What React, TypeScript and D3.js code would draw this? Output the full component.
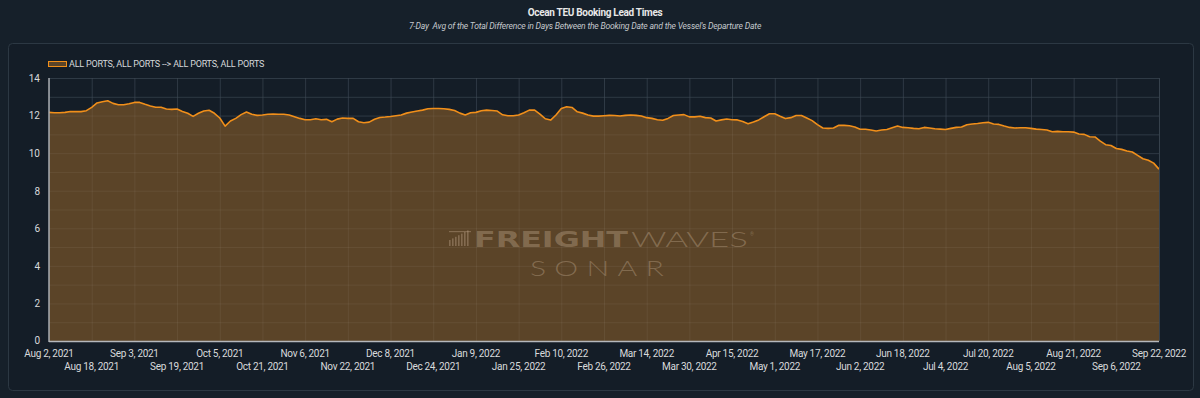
import * as d3 from "d3"

// Ocean TEU booking lead times, 7-day avg, one reading every 2 days from Aug 2, 2021
const startDate = "2021-08-02"
const stepDays = 2
const leadTimes = [
    12.17, 12.15, 12.15, 12.17, 12.22, 12.21, 12.21, 12.26, 12.44, 12.67,
    12.74, 12.79, 12.65, 12.58, 12.58, 12.63, 12.7, 12.7, 12.6, 12.51,
    12.44, 12.44, 12.35, 12.33, 12.35, 12.22, 12.12, 11.96, 12.12, 12.24,
    12.28, 12.12, 11.87, 11.44, 11.71, 11.85, 12.05, 12.19, 12.07, 12.01,
    12.03, 12.07, 12.08, 12.07, 12.07, 12.03, 11.94, 11.85, 11.78, 11.78,
    11.83, 11.78, 11.8, 11.67, 11.81, 11.87, 11.85, 11.85, 11.67, 11.62,
    11.65, 11.8, 11.9, 11.92, 11.95, 11.99, 12.03, 12.13, 12.19, 12.24,
    12.29, 12.36, 12.38, 12.38, 12.36, 12.33, 12.27, 12.13, 12.03, 12.15,
    12.17, 12.26, 12.29, 12.27, 12.24, 12.04, 11.99, 11.99, 12.03, 12.15,
    12.29, 12.29, 12.08, 11.83, 11.76, 12.03, 12.38, 12.47, 12.43, 12.2,
    12.13, 12.03, 11.97, 11.97, 11.99, 12.01, 12.0, 11.98, 12.01, 12.03,
    12.01, 11.98, 11.89, 11.85, 11.78, 11.75, 11.85, 12.0, 12.03, 12.05,
    11.93, 11.93, 11.96, 11.89, 11.87, 11.71, 11.77, 11.82, 11.78, 11.77,
    11.68, 11.57, 11.66, 11.77, 11.94, 12.1, 12.1, 11.96, 11.84, 11.89,
    12.0, 12.0, 11.87, 11.73, 11.52, 11.34, 11.32, 11.34, 11.48, 11.48,
    11.46, 11.39, 11.27, 11.27, 11.23, 11.18, 11.23, 11.26, 11.35, 11.44,
    11.37, 11.35, 11.32, 11.3, 11.37, 11.34, 11.3, 11.28, 11.26, 11.32,
    11.37, 11.39, 11.51, 11.55, 11.58, 11.62, 11.64, 11.55, 11.53, 11.44,
    11.37, 11.34, 11.35, 11.35, 11.32, 11.28, 11.26, 11.23, 11.14, 11.16,
    11.14, 11.14, 11.12, 11.02, 11.0, 10.87, 10.86, 10.64, 10.45, 10.41,
    10.25, 10.2, 10.11, 10.06, 9.88, 9.7, 9.62, 9.47, 9.15,
]

const xTickDates = [
    "2021-08-02", "2021-08-18", "2021-09-03", "2021-09-19", "2021-10-05",
    "2021-10-21", "2021-11-06", "2021-11-22", "2021-12-08", "2021-12-24",
    "2022-01-09", "2022-01-25", "2022-02-10", "2022-02-26", "2022-03-14",
    "2022-03-30", "2022-04-15", "2022-05-01", "2022-05-17", "2022-06-02",
    "2022-06-18", "2022-07-04", "2022-07-20", "2022-08-05", "2022-08-21",
    "2022-09-06", "2022-09-22",
]
const yTicks = [0, 2, 4, 6, 8, 10, 12, 14]

const title = "Ocean TEU Booking Lead Times"
const subtitle = "7-Day  Avg of the Total Difference in Days Between the Booking Date and the Vessel's Departure Date"
const seriesName = "ALL PORTS, ALL PORTS --> ALL PORTS, ALL PORTS"

const W = 1200
const H = 398
const m = { left: 49, right: 1159, top: 78, bottom: 341 }
const bg = "#16202a"
const orange = "#f18f1a"
const brown = "#5b4428"
const font = "Roboto, 'Noto Sans', sans-serif"

export default function App() {
    const parse = d3.timeParse("%Y-%m-%d")
    const t0 = parse(startDate) as Date
    const data = leadTimes.map((v, i) => ({ date: d3.timeDay.offset(t0, i * stepDays), value: v }))
    const ticks = xTickDates.map((s) => parse(s) as Date)
    const fmt = d3.timeFormat("%b %-d, %Y")

    const x = d3.scaleTime()
        .domain([ticks[0], ticks[ticks.length - 1]])
        .range([m.left, m.right])
    const y = d3.scaleLinear().domain([0, 14]).range([m.bottom, m.top])

    const area = d3.area<{ date: Date; value: number }>()
        .x((d) => x(d.date))
        .y0(y(0))
        .y1((d) => y(d.value))
    const line = d3.line<{ date: Date; value: number }>()
        .x((d) => x(d.date))
        .y((d) => y(d.value))

    const yGrid = d3.range(0, 15, 1)

    return (
        <div style={{ position: "fixed", left: 0, top: 0, width: W, height: H, background: bg }}>
            <svg width={W} height={H} style={{ display: "block", fontFamily: font }}>
                <rect x={0} y={0} width={W} height={H} fill={bg} />
                <text x={595} y={16} textAnchor="middle" fill="#e8e8e8" fontSize={10} fontWeight={700} letterSpacing={-0.3}>
                    {title}
                </text>
                <text x={585} y={28.5} textAnchor="middle" fill="#c4c8cc" fontSize={8.6} fontStyle="italic"
                    letterSpacing={-0.2} style={{ whiteSpace: "pre" }}>
                    {subtitle}
                </text>

                <rect x={8.5} y={43.5} width={1185} height={347} rx={4} fill="#141d27" stroke="#2c3843" />

                {/* legend */}
                <rect x={48.5} y={61.5} width={18} height={5} fill={brown} stroke={orange} strokeWidth={1} />
                <text x={69} y={67} fill="#d6d8da" fontSize={9} letterSpacing={-0.2}>{seriesName}</text>

                {/* grid behind */}
                <g stroke="#232e3a" strokeWidth={1}>
                    {yGrid.map((v) => (
                        <line key={"gy" + v} x1={m.left} x2={m.right} y1={y(v) + 0.5} y2={y(v) + 0.5} />
                    ))}
                    {ticks.map((t, i) => (
                        <line key={"gx" + i} x1={x(t) + 0.5} x2={x(t) + 0.5} y1={m.top} y2={m.bottom} />
                    ))}
                </g>

                <path d={area(data) ?? ""} fill={brown} />

                {/* grid over the fill */}
                <g stroke="#ffffff" strokeOpacity={0.06} strokeWidth={1}>
                    {yGrid.map((v) => (
                        <line key={"oy" + v} x1={m.left} x2={m.right} y1={y(v) + 0.5} y2={y(v) + 0.5} />
                    ))}
                    {ticks.map((t, i) => (
                        <line key={"ox" + i} x1={x(t) + 0.5} x2={x(t) + 0.5} y1={m.top} y2={m.bottom} />
                    ))}
                </g>

                {/* watermark */}
                <g fill="#b49c80" fillOpacity={0.45}>
                    {[0, 1, 2, 3, 4, 5, 6].map((i) => (
                        <rect key={"wm" + i} x={449 + i * 3} y={246 - (6 + i * 1.6)} width={1.6} height={6 + i * 1.6} />
                    ))}
                    <rect x={449} y={231} width={22} height={1.2} />
                    <text x={474} y={247} fontSize={21} fontWeight={900} textLength={154} lengthAdjust="spacingAndGlyphs"
                        fontFamily="'DejaVu Sans', sans-serif">FREIGHT</text>
                    <text x={631} y={247} fontSize={21} fontWeight={300} textLength={117} lengthAdjust="spacingAndGlyphs"
                        fontFamily="Lato, sans-serif">WAVES</text>
                    <text x={750} y={236} fontSize={5}>®</text>
                    <text x={530} y={276} fontSize={22} fontWeight={300} textLength={142} lengthAdjust="spacingAndGlyphs"
                        fontFamily="Lato, sans-serif" letterSpacing={6}>SONAR</text>
                </g>

                <path d={line(data) ?? ""} fill="none" stroke={orange} strokeWidth={1.6} strokeLinejoin="round" />

                {/* axes */}
                <line x1={m.left} x2={m.left} y1={m.top} y2={m.bottom + 1} stroke="#a9adb2" strokeWidth={1.5} />
                <line x1={m.left} x2={m.right} y1={m.bottom + 0.5} y2={m.bottom + 0.5} stroke="#b5b8bc" strokeWidth={1.5} />
                <line x1={m.right + 0.5} x2={m.right + 0.5} y1={m.top} y2={m.bottom} stroke="#36414c" />

                {yTicks.map((v) => (
                    <text key={"yl" + v} x={40} y={y(v) + (v === 0 ? 2.5 : 3.8)} textAnchor="end" fill="#d8dadc" fontSize={10}>
                        {v}
                    </text>
                ))}
                {ticks.map((t, i) => (
                    <text key={"xl" + i} x={x(t)} y={i % 2 === 0 ? 356.5 : 370} textAnchor="middle" fill="#d8dadc"
                        fontSize={10} letterSpacing={-0.3}>
                        {fmt(t)}
                    </text>
                ))}
            </svg>
        </div>
    )
}
